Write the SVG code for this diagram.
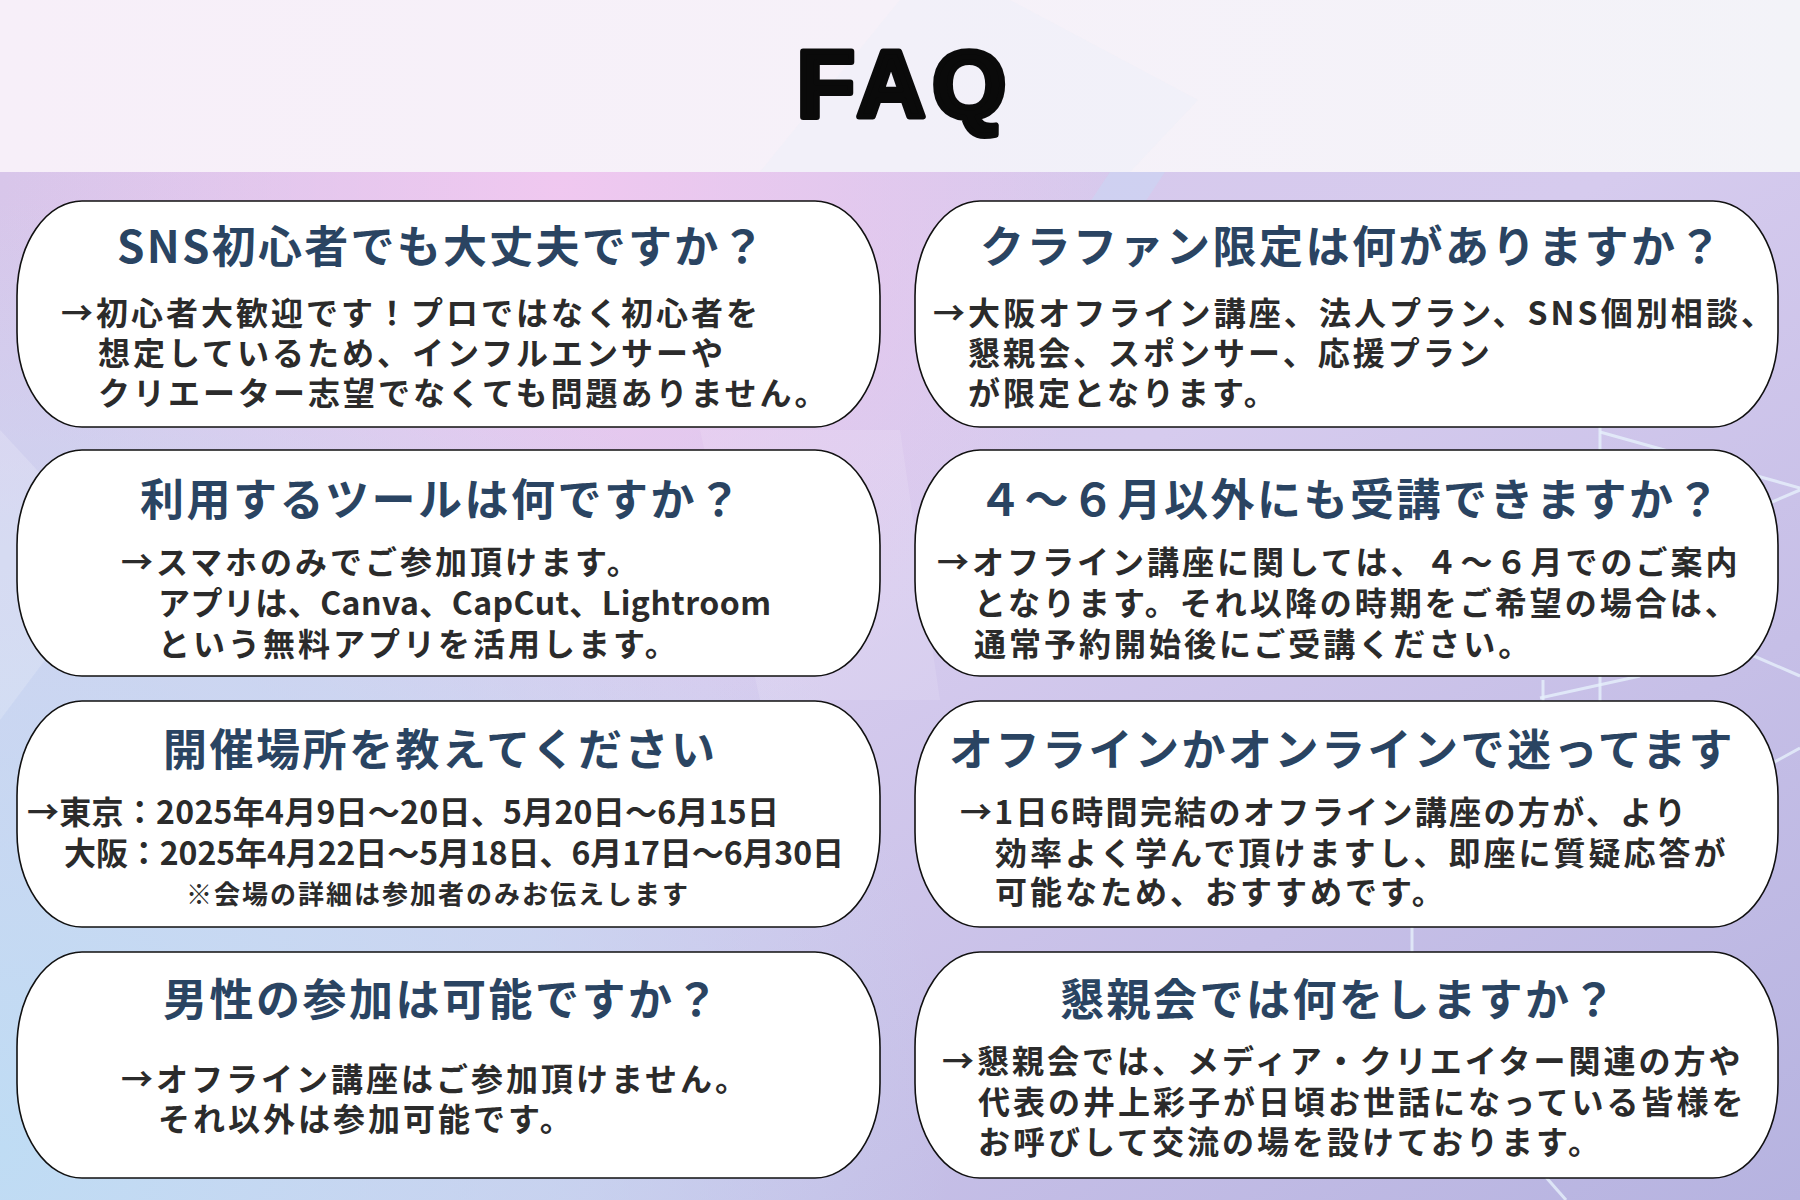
<svg xmlns="http://www.w3.org/2000/svg" width="1800" height="1200" viewBox="0 0 1800 1200">
<defs>
<linearGradient id="hdr" x1="0" y1="0" x2="1" y2="0">
<stop offset="0" stop-color="#f7eff9"/>
<stop offset="0.5" stop-color="#f6f1f9"/>
<stop offset="1" stop-color="#f3f3f8"/>
</linearGradient>
<linearGradient id="bg" x1="0" y1="0" x2="1" y2="1">
<stop offset="0" stop-color="#d8c6ea"/>
<stop offset="0.45" stop-color="#d6cbee"/>
<stop offset="1" stop-color="#b6b3e0"/>
</linearGradient>
<radialGradient id="pink" cx="560" cy="190" r="560" gradientUnits="userSpaceOnUse">
<stop offset="0" stop-color="#f1c8f0" stop-opacity="0.95"/>
<stop offset="1" stop-color="#f1c8f0" stop-opacity="0"/>
</radialGradient>
<radialGradient id="blue" cx="0" cy="1150" r="950" gradientUnits="userSpaceOnUse">
<stop offset="0" stop-color="#bfdcf4" stop-opacity="1"/>
<stop offset="0.6" stop-color="#c6dcf3" stop-opacity="0.6"/>
<stop offset="1" stop-color="#c6dcf3" stop-opacity="0"/>
</radialGradient>
<style>
.box{fill:#ffffff;stroke:#111111;stroke-width:1.6}
.qt{font-family:"Noto Sans CJK JP","Noto Sans",sans-serif;font-weight:700;font-size:44px;letter-spacing:2.5px;fill:#2a4462}
.bd{font-family:"Noto Sans CJK JP","Noto Sans",sans-serif;font-weight:700;font-size:32px;letter-spacing:3px;fill:#2b2b2b}
.sm{font-size:26px;letter-spacing:2px}
.ln{stroke:#e6f0fb;stroke-width:3;fill:none;opacity:0.8}
.faq{font-family:"Liberation Sans",Arial,sans-serif;font-weight:700;font-size:95px;fill:#0a0a0a;stroke:#0a0a0a;stroke-width:6;stroke-linejoin:round;stroke-linecap:round}
</style>
</defs>

<!-- background -->
<rect x="0" y="0" width="1800" height="172" fill="url(#hdr)"/>
<polygon points="1010,0 1198,100 1130,172 760,172 900,0" fill="#eef0fa" opacity="0.5"/>
<rect x="0" y="172" width="1800" height="1028" fill="url(#bg)"/>
<rect x="0" y="172" width="1800" height="1028" fill="url(#pink)"/>
<rect x="0" y="172" width="1800" height="1028" fill="url(#blue)"/>
<polygon points="1110,172 1165,172 1060,330 1005,330" fill="#c9d6f3" opacity="0.6"/>
<polygon points="700,430 900,430 940,700 760,700" fill="#ffffff" opacity="0.12"/>
<polygon points="0,430 120,560 0,720" fill="#ffffff" opacity="0.18"/>
<g class="bglines">
<path class="ln" d="M1600 415 V 705"/>
<path class="ln" d="M1600 432 L1800 488"/>
<path class="ln" d="M1765 505 L1800 490"/>
<path class="ln" d="M1740 650 L1800 676"/>
<path class="ln" d="M1540 698 L1640 676"/>
<path class="ln" d="M1543 680 V 705"/>
<path class="ln" d="M1760 770 L1800 748"/>
<path class="ln" d="M1412 925 V 955"/>
<path class="ln" d="M1522 1150 L1566 1200"/>
</g>

<!-- title -->
<text class="faq" x="905" y="117" text-anchor="middle" letter-spacing="7">FAQ</text>

<g id="q1">
<rect class="box" x="17" y="201" width="863" height="226" rx="65" ry="95"/>
<text class="qt" x="117" y="263" textLength="650" lengthAdjust="spacing">SNS初心者でも大丈夫ですか？</text>
<text class="bd" x="61" y="325">→初心者大歓迎です！プロではなく初心者を</text>
<text class="bd" x="98" y="365">想定しているため、インフルエンサーや</text>
<text class="bd" x="98" y="405">クリエーター志望でなくても問題ありません。</text>
</g>

<g id="q2">
<rect class="box" x="915" y="201" width="863" height="226" rx="65" ry="95"/>
<text class="qt" x="980" y="263">クラファン限定は何がありますか？</text>
<text class="bd" x="933" y="325" textLength="843" lengthAdjust="spacing">→大阪オフライン講座、法人プラン、SNS個別相談、</text>
<text class="bd" x="968" y="365">懇親会、スポンサー、応援プラン</text>
<text class="bd" x="968" y="405">が限定となります。</text>
</g>

<g id="q3">
<rect class="box" x="17" y="450" width="863" height="226" rx="65" ry="95"/>
<text class="qt" x="140" y="516">利用するツールは何ですか？</text>
<text class="bd" x="121" y="574">→スマホのみでご参加頂けます。</text>
<text class="bd" x="158" y="615" textLength="616" lengthAdjust="spacing">アプリは、Canva、CapCut、Lightroom</text>
<text class="bd" x="158" y="656">という無料アプリを活用します。</text>
</g>

<g id="q4">
<rect class="box" x="915" y="450" width="863" height="226" rx="65" ry="95"/>
<text class="qt" x="978" y="516">４～６月以外にも受講できますか？</text>
<text class="bd" x="937" y="574">→オフライン講座に関しては、４～６月でのご案内</text>
<text class="bd" x="974" y="615">となります。それ以降の時期をご希望の場合は、</text>
<text class="bd" x="974" y="656">通常予約開始後にご受講ください。</text>
</g>

<g id="q5">
<rect class="box" x="17" y="701" width="863" height="226" rx="65" ry="95"/>
<text class="qt" x="163" y="766">開催場所を教えてください</text>
<text class="bd" x="27" y="824" textLength="755" lengthAdjust="spacing">→東京：2025年4月9日～20日、5月20日～6月15日</text>
<text class="bd" x="64" y="865" textLength="783" lengthAdjust="spacing">大阪：2025年4月22日～5月18日、6月17日～6月30日</text>
<text class="bd sm" x="186" y="904">※会場の詳細は参加者のみお伝えします</text>
</g>

<g id="q6">
<rect class="box" x="915" y="701" width="863" height="226" rx="65" ry="95"/>
<text class="qt" x="949" y="766">オフラインかオンラインで迷ってます</text>
<text class="bd" x="960" y="824" textLength="729" lengthAdjust="spacing">→1日6時間完結のオフライン講座の方が、より</text>
<text class="bd" x="995" y="865">効率よく学んで頂けますし、即座に質疑応答が</text>
<text class="bd" x="995" y="904">可能なため、おすすめです。</text>
</g>

<g id="q7">
<rect class="box" x="17" y="952" width="863" height="226" rx="65" ry="95"/>
<text class="qt" x="163" y="1016">男性の参加は可能ですか？</text>
<text class="bd" x="121" y="1091">→オフライン講座はご参加頂けません。</text>
<text class="bd" x="158" y="1131">それ以外は参加可能です。</text>
</g>

<g id="q8">
<rect class="box" x="915" y="952" width="863" height="226" rx="65" ry="95"/>
<text class="qt" x="1060" y="1016">懇親会では何をしますか？</text>
<text class="bd" x="942" y="1073">→懇親会では、メディア・クリエイター関連の方や</text>
<text class="bd" x="978" y="1114">代表の井上彩子が日頃お世話になっている皆様を</text>
<text class="bd" x="978" y="1154">お呼びして交流の場を設けております。</text>
</g>
</svg>
